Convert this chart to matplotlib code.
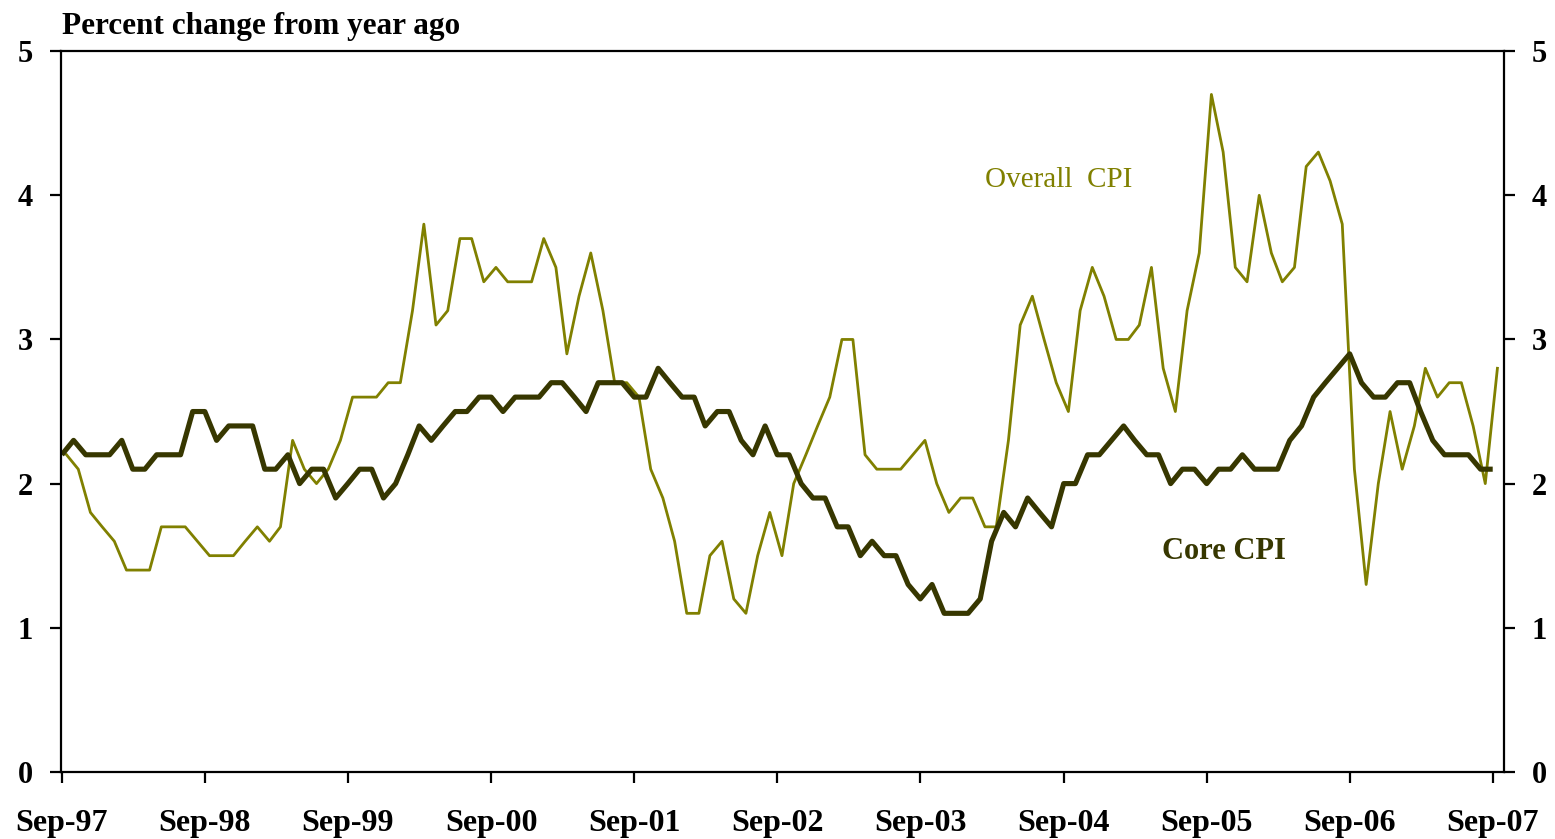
import matplotlib
matplotlib.use("Agg")
import matplotlib.pyplot as plt
import matplotlib.dates as mdates
import pandas as pd

# monthly, Sep-97 .. Sep-07, percent change from year ago
months = pd.date_range("1997-09-01", "2007-09-01", freq="MS")

overall_cpi = [
    2.2, 2.1, 1.8, 1.7,
    1.6, 1.4, 1.4, 1.4, 1.7, 1.7, 1.7, 1.6, 1.5, 1.5, 1.5, 1.6,
    1.7, 1.6, 1.7, 2.3, 2.1, 2.0, 2.1, 2.3, 2.6, 2.6, 2.6, 2.7,
    2.7, 3.2, 3.8, 3.1, 3.2, 3.7, 3.7, 3.4, 3.5, 3.4, 3.4, 3.4,
    3.7, 3.5, 2.9, 3.3, 3.6, 3.2, 2.7, 2.7, 2.6, 2.1, 1.9, 1.6,
    1.1, 1.1, 1.5, 1.6, 1.2, 1.1, 1.5, 1.8, 1.5, 2.0, 2.2, 2.4,
    2.6, 3.0, 3.0, 2.2, 2.1, 2.1, 2.1, 2.2, 2.3, 2.0, 1.8, 1.9,
    1.9, 1.7, 1.7, 2.3, 3.1, 3.3, 3.0, 2.7, 2.5, 3.2, 3.5, 3.3,
    3.0, 3.0, 3.1, 3.5, 2.8, 2.5, 3.2, 3.6, 4.7, 4.3, 3.5, 3.4,
    4.0, 3.6, 3.4, 3.5, 4.2, 4.3, 4.1, 3.8, 2.1, 1.3, 2.0, 2.5,
    2.1, 2.4, 2.8, 2.6, 2.7, 2.7, 2.4, 2.0, 2.8,
]

core_cpi = [
    2.2, 2.3, 2.2, 2.2,
    2.2, 2.3, 2.1, 2.1, 2.2, 2.2, 2.2, 2.5, 2.5, 2.3, 2.4, 2.4,
    2.4, 2.1, 2.1, 2.2, 2.0, 2.1, 2.1, 1.9, 2.0, 2.1, 2.1, 1.9,
    2.0, 2.2, 2.4, 2.3, 2.4, 2.5, 2.5, 2.6, 2.6, 2.5, 2.6, 2.6,
    2.6, 2.7, 2.7, 2.6, 2.5, 2.7, 2.7, 2.7, 2.6, 2.6, 2.8, 2.7,
    2.6, 2.6, 2.4, 2.5, 2.5, 2.3, 2.2, 2.4, 2.2, 2.2, 2.0, 1.9,
    1.9, 1.7, 1.7, 1.5, 1.6, 1.5, 1.5, 1.3, 1.2, 1.3, 1.1, 1.1,
    1.1, 1.2, 1.6, 1.8, 1.7, 1.9, 1.8, 1.7, 2.0, 2.0, 2.2, 2.2,
    2.3, 2.4, 2.3, 2.2, 2.2, 2.0, 2.1, 2.1, 2.0, 2.1, 2.1, 2.2,
    2.1, 2.1, 2.1, 2.3, 2.4, 2.6, 2.7, 2.8, 2.9, 2.7, 2.6, 2.6,
    2.7, 2.7, 2.5, 2.3, 2.2, 2.2, 2.2, 2.1, 2.1,
]

tick_years = pd.date_range("1997-09-01", "2007-09-01", freq="12MS")
y_ticks = [0, 1, 2, 3, 4, 5]

olive = "#808000"
dark_olive = "#373700"

plt.rcParams["font.family"] = ["Liberation Serif", "DejaVu Serif"]

fig = plt.figure(figsize=(15.55, 8.39), dpi=100)
ax = fig.add_axes([0.039, 0.08, 0.928, 0.859])

# overall CPI sits about half a month to the right of core in the original
ax.plot(months + pd.Timedelta(days=12), overall_cpi, color=olive, lw=2.0,
        solid_joinstyle="round")
ax.plot(months, core_cpi, color=dark_olive, lw=3.7, solid_joinstyle="round",
        solid_capstyle="butt")

ax.set_ylim(0, 5)
ax.set_xlim(pd.Timestamp("1997-08-29"), pd.Timestamp("2007-09-29"))
ax.set_yticks(y_ticks)
ax.set_xticks(tick_years)
ax.xaxis.set_major_formatter(mdates.DateFormatter("%b-%y"))

for s in ax.spines.values():
    s.set_linewidth(1.6)
    s.set_color("black")

ax.tick_params(axis="y", direction="out", length=8, width=1.6, left=True,
               right=True, labelleft=True, labelright=True, pad=12,
               labelsize=22)
ax.tick_params(axis="x", direction="out", length=8, width=1.6, pad=19,
               labelsize=23)
for lab in ax.get_xticklabels() + ax.get_yticklabels():
    lab.set_fontweight("bold")
for t in ax.yaxis.get_major_ticks():
    t.label2.set_fontweight("bold")

fig.text(0.04, 0.96, "Percent change from year ago", fontsize=22.5,
         fontweight="bold", ha="left", va="baseline")
ax.text(pd.Timestamp("2004-08-20"), 4.06, "Overall  CPI", color=olive,
        fontsize=21, ha="center", va="baseline")
ax.text(pd.Timestamp("2005-10-15"), 1.48, "Core CPI", color=dark_olive,
        fontsize=22, fontweight="bold", ha="center", va="baseline")

fig.savefig("out.png", dpi=100)
